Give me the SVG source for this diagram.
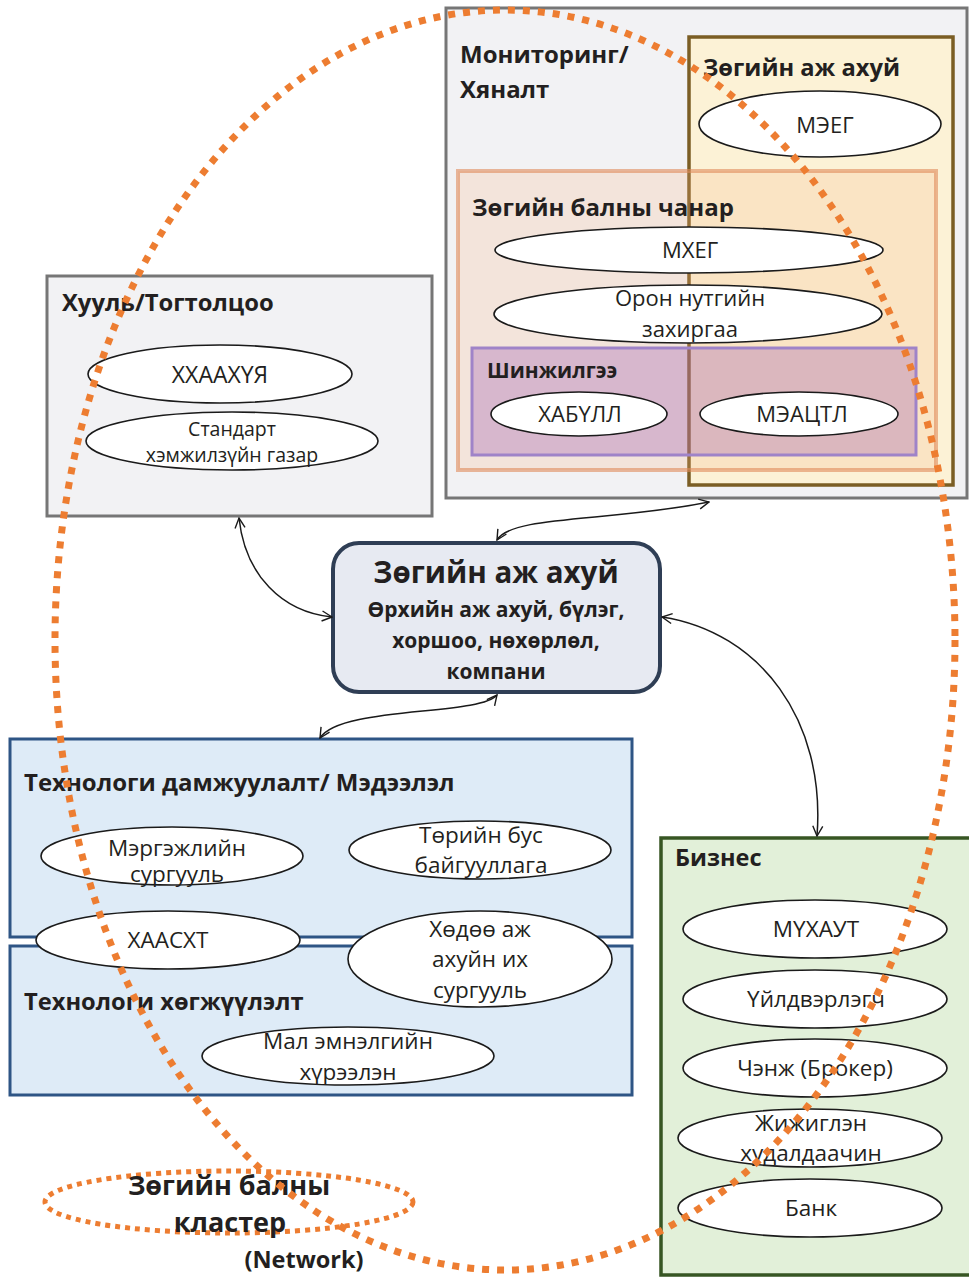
<svg xmlns="http://www.w3.org/2000/svg" width="969" height="1277" viewBox="0 0 969 1277">
<defs>
<style>
.t{font-family:"Open Sans","Noto Sans","DejaVu Sans",sans-serif;fill:#231F20}
.b{font-weight:bold}
.m{text-anchor:middle}
.el{fill:#FFFFFF;stroke:#1A1A1A;stroke-width:1.6}
.gray{fill:#F2F2F4;stroke:#767676;stroke-width:3}
.conn{fill:none;stroke:#1A1A1A;stroke-width:1.5;marker-start:url(#ah);marker-end:url(#ah)}
.dot{fill:none;stroke:#ED7D31}
</style>
<marker id="ah" viewBox="0 0 12 12" refX="11" refY="6" markerWidth="12" markerHeight="12" markerUnits="userSpaceOnUse" orient="auto-start-reverse">
<path d="M1,1 L11,6 L1,11" fill="none" stroke="#1A1A1A" stroke-width="1.4"/>
</marker>
</defs>
<rect width="969" height="1277" fill="#FFFFFF"/>

<g id="monitoring">
<rect class="gray" x="446" y="8" width="521" height="490"/>
<text class="t b" x="460" y="63" font-size="24">Мониторинг/</text>
<text class="t b" x="460" y="98" font-size="24">Хяналт</text>
</g>
<g id="bee-farm-box">
<rect x="689" y="37" width="264" height="448" fill="#FCF2D6" stroke="#7B5E24" stroke-width="3.5"/>
<text class="t b" x="703" y="76" font-size="23.7">Зөгийн аж ахуй</text>
</g>
<g id="honey-quality-box">
<rect x="458" y="171" width="478" height="299" fill="#F4B183" fill-opacity="0.22" stroke="#E08A5A" stroke-opacity="0.6" stroke-width="4"/>
<text class="t b" x="472" y="216" font-size="24">Зөгийн балны чанар</text>
</g>
<g id="analysis-box">
<rect x="472" y="348" width="444" height="107" fill="#9B5BB0" fill-opacity="0.32" stroke="#9F83C8" stroke-width="3"/>
<text class="t b" x="487" y="378" font-size="21">Шинжилгээ</text>
</g>
<g id="meeg">
<ellipse class="el" cx="820" cy="124" rx="121" ry="33"/>
<text class="t m" x="825" y="133" font-size="22">МЭЕГ</text>
</g>
<g id="mheg">
<ellipse class="el" cx="689" cy="250" rx="194" ry="23"/>
<text class="t m" x="690" y="258" font-size="22">МХЕГ</text>
</g>
<g id="local-gov">
<ellipse class="el" cx="688" cy="314" rx="194" ry="29"/>
<text class="t m" x="690" y="306" font-size="22">Орон нутгийн</text>
<text class="t m" x="690" y="337" font-size="22">захиргаа</text>
</g>
<g id="habull">
<ellipse class="el" cx="579" cy="414" rx="88" ry="22"/>
<text class="t m" x="580" y="422" font-size="22">ХАБҮЛЛ</text>
</g>
<g id="meactl">
<ellipse class="el" cx="799" cy="414" rx="99" ry="22"/>
<text class="t m" x="802" y="422" font-size="22">МЭАЦТЛ</text>
</g>

<g id="law">
<rect class="gray" x="47" y="276" width="385" height="240"/>
<text class="t b" x="62" y="311" font-size="23.8">Хууль/Тогтолцоо</text>
</g>
<g id="hhaahuya">
<ellipse class="el" cx="220" cy="374" rx="132" ry="29"/>
<text class="t m" x="220" y="383" font-size="23">ХХААХҮЯ</text>
</g>
<g id="standard">
<ellipse class="el" cx="232" cy="441" rx="146" ry="29"/>
<text class="t m" x="232" y="436" font-size="19.5">Стандарт</text>
<text class="t m" x="232" y="462" font-size="19.5">хэмжилзүйн газар</text>
</g>

<g id="center">
<rect x="333" y="543" width="327" height="149" rx="26" fill="#E7EAF2" stroke="#2F3E55" stroke-width="4"/>
<text class="t b m" x="496" y="583" font-size="29.5">Зөгийн аж ахуй</text>
<text class="t b m" x="496" y="617" font-size="21">Өрхийн аж ахуй, бүлэг,</text>
<text class="t b m" x="496" y="648" font-size="21">хоршоо, нөхөрлөл,</text>
<text class="t b m" x="496" y="679" font-size="21">компани</text>
</g>

<g id="tech-transfer">
<rect x="10" y="739" width="622" height="198" fill="#DEEBF7" stroke="#2E5585" stroke-width="3"/>
<text class="t b" x="24" y="791" font-size="24">Технологи дамжуулалт/ Мэдээлэл</text>
</g>
<g id="tech-dev">
<rect x="10" y="946" width="622" height="149" fill="#DEEBF7" stroke="#2E5585" stroke-width="3"/>
<text class="t b" x="24" y="1010" font-size="23.7">Технологи хөгжүүлэлт</text>
</g>
<g id="voc-school">
<ellipse class="el" cx="172" cy="856" rx="131" ry="29"/>
<text class="t m" x="177" y="856" font-size="22.5">Мэргэжлийн</text>
<text class="t m" x="177" y="882" font-size="22.5">сургууль</text>
</g>
<g id="ngo">
<ellipse class="el" cx="480" cy="850" rx="131" ry="29"/>
<text class="t m" x="481" y="843" font-size="22.5">Төрийн бус</text>
<text class="t m" x="481" y="873" font-size="22.5">байгууллага</text>
</g>
<g id="haasht">
<ellipse class="el" cx="168" cy="940" rx="132" ry="29"/>
<text class="t m" x="168" y="948" font-size="22.5">ХААСХТ</text>
</g>
<g id="agri-univ">
<ellipse class="el" cx="480" cy="959" rx="132" ry="48"/>
<text class="t m" x="480" y="937" font-size="22.5">Хөдөө аж</text>
<text class="t m" x="480" y="967" font-size="22.5">ахуйн их</text>
<text class="t m" x="480" y="998" font-size="22.5">сургууль</text>
</g>
<g id="vet-inst">
<ellipse class="el" cx="348" cy="1056" rx="146" ry="29"/>
<text class="t m" x="348" y="1049" font-size="22.5">Мал эмнэлгийн</text>
<text class="t m" x="348" y="1080" font-size="22.5">хүрээлэн</text>
</g>

<g id="business">
<rect x="661" y="838" width="310" height="437" fill="#E2F0D9" stroke="#375623" stroke-width="3.5"/>
<text class="t b" x="675" y="866" font-size="23.5">Бизнес</text>
</g>
<g id="muhaut">
<ellipse class="el" cx="815" cy="929" rx="132" ry="29"/>
<text class="t m" x="816" y="937" font-size="22.5">МҮХАУТ</text>
</g>
<g id="producer">
<ellipse class="el" cx="815" cy="999" rx="132" ry="29"/>
<text class="t m" x="816" y="1007" font-size="22.5">Үйлдвэрлэгч</text>
</g>
<g id="broker">
<ellipse class="el" cx="815" cy="1068" rx="132" ry="29"/>
<text class="t m" x="815" y="1076" font-size="22.5">Чэнж (Брокер)</text>
</g>
<g id="retailer">
<ellipse class="el" cx="810" cy="1138" rx="132" ry="29"/>
<text class="t m" x="811" y="1131" font-size="22.5">Жижиглэн</text>
<text class="t m" x="811" y="1161" font-size="22.5">худалдаачин</text>
</g>
<g id="bank">
<ellipse class="el" cx="810" cy="1208" rx="132" ry="29"/>
<text class="t m" x="811" y="1216" font-size="22.5">Банк</text>
</g>

<g id="connectors">
<path class="conn" d="M239,518 C245,575 282,612 332,617"/>
<path class="conn" d="M497,540 C512,515 610,522 709,502"/>
<path class="conn" d="M497,695 C480,716 340,706 320,738"/>
<path class="conn" d="M662,617 C760,632 826,720 817,836"/>
</g>

<g id="cluster">
<ellipse class="dot" cx="229" cy="1202" rx="184" ry="31" stroke-width="5" stroke-dasharray="5 5"/>
<text class="t b m" x="229" y="1195" font-size="27">Зөгийн балны</text>
<text class="t b m" x="230" y="1232" font-size="27">кластер</text>
<text class="t b m" x="304" y="1268" font-size="23.5">(Network)</text>
</g>
<g id="network-boundary">
<ellipse class="dot" cx="505" cy="640" rx="450" ry="630" stroke-width="7" stroke-dasharray="7 8"/>
</g>
</svg>
